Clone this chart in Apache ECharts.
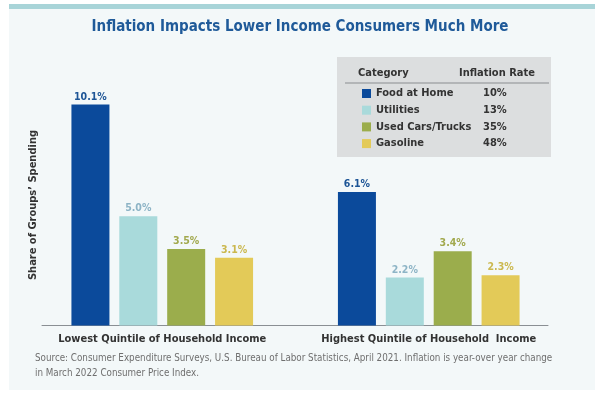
<!DOCTYPE html>
<html>
<head>
<meta charset="utf-8">
<script src="https://cdn.jsdelivr.net/npm/echarts@6/dist/echarts.min.js"></script>
<style>
  html, body { margin: 0; padding: 0; background: #ffffff; }
  #chart { width: 600px; height: 398px; }
</style>
</head>
<body>
<div id="chart"></div>
<script>
var groups = ['Lowest Quintile of Household Income', 'Highest Quintile of Household  Income'];
var categories = ['Food at Home', 'Utilities', 'Used Cars/Trucks', 'Gasoline'];
var inflationRates = ['10%', '13%', '35%', '48%'];
var foodAtHome = [10.1, 6.1];
var utilities = [5.0, 2.2];
var usedCars = [3.5, 3.4];
var gasoline = [3.1, 2.3];

var barColors = ['#0b4a9b', '#a9dadb', '#9bad4c', '#e3ca58'];
var labelColors = ['#1d5596', '#8db4c6', '#a2a94e', '#cbb84f'];
var font = "'DejaVu Sans Condensed', sans-serif";

var chart = echarts.init(document.getElementById('chart'));

function barSeries(idx, values) {
    return {
        name: categories[idx],
        type: 'bar',
        data: values,
        barWidth: 38,
        barGap: '26%',
        itemStyle: { color: barColors[idx] },
        label: {
            show: true,
            position: 'top',
            distance: 2,
            formatter: function (p) { return p.value.toFixed(1) + '%'; },
            color: labelColors[idx],
            fontFamily: font,
            fontWeight: 'bold',
            fontSize: 10.5
        }
    };
}

var option = {
    backgroundColor: '#ffffff',
    animation: false,
    title: [{
        text: 'Inflation Impacts Lower Income Consumers Much More',
        left: 'center',
        top: 15,
        textStyle: { color: '#1f5a99', fontFamily: font, fontWeight: 'bold', fontSize: 15 }
    }],
    graphic: [
        { type: 'rect', z: -10, shape: { x: 9, y: 4, width: 586, height: 386 }, style: { fill: '#f3f8f9' } },
        { type: 'rect', z: -9, shape: { x: 9, y: 4, width: 586, height: 5 }, style: { fill: '#a8d4d8' } },
        { type: 'rect', z: -5, shape: { x: 337, y: 57, width: 214, height: 100 }, style: { fill: '#dcdedf' } },
        { type: 'line', z: -4, shape: { x1: 345, y1: 83, x2: 549, y2: 83 }, style: { stroke: '#8a8d90', lineWidth: 1 } },
        { type: 'text', x: 358, y: 73, style: { text: 'Category', fill: '#333', font: 'bold 11px ' + font, verticalAlign: 'middle' } },
        { type: 'text', x: 459, y: 73, style: { text: 'Inflation Rate', fill: '#333', font: 'bold 11px ' + font, verticalAlign: 'middle' } },
        { type: 'text', x: 33, y: 205, rotation: Math.PI / 2,
          style: { text: 'Share of Groups\u2019 Spending', fill: '#333', font: 'bold 11px ' + font, align: 'center', verticalAlign: 'middle' } },
        { type: 'text', x: 35, y: 351,
          style: { text: 'Source: Consumer Expenditure Surveys, U.S. Bureau of Labor Statistics, April 2021. Inflation is year-over year change\nin March 2022 Consumer Price Index.',
                   fill: '#6f6f6f', font: '9.75px ' + font, lineHeight: 15 } }
    ],
    legend: {
        orient: 'vertical',
        left: 357,
        top: 83,
        icon: 'rect',
        itemWidth: 9,
        itemHeight: 9,
        itemGap: 5.7,
        selectedMode: false,
        data: categories,
        formatter: function (name) {
            return '{n|' + name + '}{r|' + inflationRates[categories.indexOf(name)] + '}';
        },
        textStyle: {
            rich: {
                n: { width: 107, fontFamily: font, fontWeight: 'bold', fontSize: 11, color: '#333', lineHeight: 12 },
                r: { fontFamily: font, fontWeight: 'bold', fontSize: 11, color: '#333', lineHeight: 12 }
            }
        }
    },
    grid: [
        { left: 29, right: 38, top: 63, bottom: 72.5 },
        { left: 42, right: 52, top: 63, bottom: 72.5 }
    ],
    xAxis: [{
        type: 'category',
        data: groups,
        gridIndex: 0,
        axisLine: { show: false },
        axisTick: { show: false },
        axisLabel: { interval: 0, margin: 8, color: '#333', fontFamily: font, fontWeight: 'bold', fontSize: 11 }
    }, {
        type: 'category',
        data: [''],
        gridIndex: 1,
        axisLine: { show: true, lineStyle: { color: '#8a8f94', width: 1 } },
        axisTick: { show: false },
        axisLabel: { show: false }
    }],
    yAxis: [{
        type: 'value',
        gridIndex: 0,
        min: 0,
        max: 12,
        show: false
    }, {
        type: 'value',
        gridIndex: 1,
        min: 0,
        max: 12,
        show: false
    }],
    series: [
        barSeries(0, foodAtHome),
        barSeries(1, utilities),
        barSeries(2, usedCars),
        barSeries(3, gasoline)
    ]
};

chart.setOption(option);
</script>
</body>
</html>
